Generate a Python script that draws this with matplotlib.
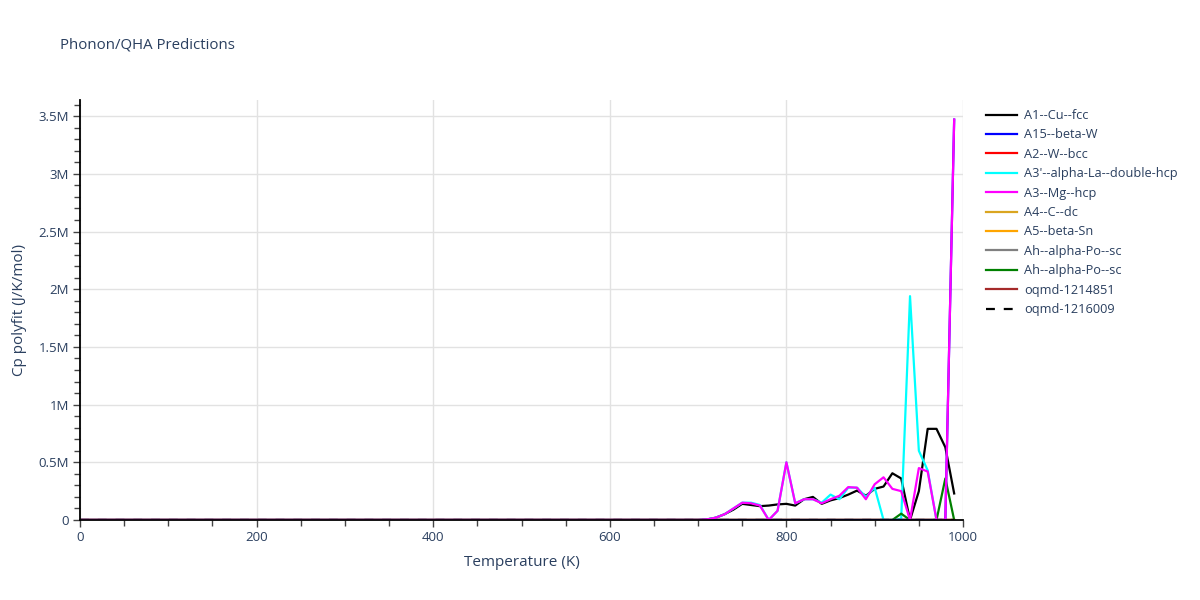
import numpy as np
import matplotlib
matplotlib.use("Agg")
import matplotlib.pyplot as plt
from matplotlib.ticker import MultipleLocator, FuncFormatter

plt.rcParams['font.family'] = ['Open Sans', 'DejaVu Sans']

# temperatures 0..990 K, step 10
temps = list(range(0, 1000, 10))

# values in J/K/mol, low-T part is flat at ~0 (70 points below 700 K)
low = [0.0] * 70
cu_fcc_tail = [0, 5e3, 2e4, 5e4, 9e4, 1.4e5, 1.3e5, 1.2e5, 1.25e5, 1.35e5,
               1.4e5, 1.25e5, 1.8e5, 2.0e5, 1.4e5, 1.7e5, 1.9e5, 2.2e5, 2.55e5, 2.1e5,
               2.7e5, 2.9e5, 4.05e5, 3.6e5, 0, 2.5e5, 7.9e5, 7.9e5, 6.3e5, 2.3e5]
la_dhcp_tail = [0, 5e3, 2e4, 5e4, 1.0e5, 1.5e5, 1.5e5, 1.3e5, 0, 8e4,
                5.0e5, 1.45e5, 1.8e5, 1.8e5, 1.5e5, 2.2e5, 1.8e5, 2.8e5, 2.8e5, 2.0e5,
                2.8e5, 0, 0, 1e4, 1.94e6, 6.0e5, 4.3e5, 0, 0, 0]
mg_hcp_tail = [0, 5e3, 2e4, 5e4, 1.0e5, 1.5e5, 1.45e5, 1.25e5, 0, 8e4,
               5.0e5, 1.45e5, 1.8e5, 1.8e5, 1.45e5, 1.8e5, 2.1e5, 2.85e5, 2.8e5, 1.8e5,
               3.1e5, 3.7e5, 2.7e5, 2.5e5, 0, 4.5e5, 4.2e5, 0, 0, 3.47e6]
beta_w_tail = [0] * 29 + [3.47e6]
po_sc2_tail = [0] * 23 + [5.5e4, 0, 0, 0, 0, 3.6e5, 0]
zero_tail = [0] * 30

series = [
    ("A1--Cu--fcc", low + cu_fcc_tail, "black", "-"),
    ("A15--beta-W", low + beta_w_tail, "blue", "-"),
    ("A2--W--bcc", low + zero_tail, "red", "-"),
    ("A3'--alpha-La--double-hcp", low + la_dhcp_tail, "cyan", "-"),
    ("A3--Mg--hcp", low + mg_hcp_tail, "magenta", "-"),
    ("A4--C--dc", low + zero_tail, "goldenrod", "-"),
    ("A5--beta-Sn", low + zero_tail, "orange", "-"),
    ("Ah--alpha-Po--sc", low + zero_tail, "grey", "-"),
    ("Ah--alpha-Po--sc", low + po_sc2_tail, "green", "-"),
    ("oqmd-1214851", low + zero_tail, "brown", "-"),
    ("oqmd-1216009", low + zero_tail, "black", "--"),
]

txt = '#2a3f5f'
fig = plt.figure(figsize=(12, 6), dpi=100)
ax = fig.add_axes([80/1200, 80/600, 883/1200, 420/600])

# draw order: blue and magenta on top like the original
order = [0, 2, 3, 5, 6, 7, 8, 9, 10, 1, 4]
handles = {}
for i in order:
    name, vals, col, ls = series[i]
    ln, = ax.plot(temps, vals, color=col, lw=1.6, ls=ls,
                  dashes=(4, 4) if ls == '--' else (None, None), label=name)
    handles[i] = ln

ax.set_xlim(0, 1000)
ax.set_ylim(0, 3.64e6)
ax.xaxis.set_major_locator(MultipleLocator(200))
ax.xaxis.set_minor_locator(MultipleLocator(50))
ax.yaxis.set_major_locator(MultipleLocator(5e5))
ax.yaxis.set_minor_locator(MultipleLocator(1e5))

def fmt(v, pos):
    if v == 0:
        return '0'
    return ('%g' % (v / 1e6)) + 'M'
ax.yaxis.set_major_formatter(FuncFormatter(fmt))

ax.grid(True, which='major', color='#e2e2e2', lw=1)
ax.set_axisbelow(True)
for s in ['top', 'right']:
    ax.spines[s].set_visible(False)
for s in ['left', 'bottom']:
    ax.spines[s].set_color('black')
    ax.spines[s].set_linewidth(1.3)
ax.tick_params(which='major', length=5, width=1, color='#444444', labelcolor=txt, labelsize=9.5, pad=3)
ax.tick_params(which='minor', length=4, width=1, color='#444444')

ax.set_xlabel('Temperature (K)', color=txt, fontsize=11, labelpad=8)
ax.set_ylabel('Cp polyfit (J/K/mol)', color=txt, fontsize=11, labelpad=8)
fig.text(60/1200, 1 - 45/600, 'Phonon/QHA Predictions', color=txt, fontsize=10.8, va='center')

leg = fig.legend([handles[i] for i in range(len(series))],
                 [s[0] for s in series],
                 loc='upper left', bbox_to_anchor=(981/1200, 1 - 104/600),
                 frameon=False, fontsize=9.2, labelcolor=txt,
                 handlelength=2.4, handletextpad=0.55, labelspacing=0.5, borderaxespad=0)

fig.savefig('out.png', dpi=100, facecolor='white')
